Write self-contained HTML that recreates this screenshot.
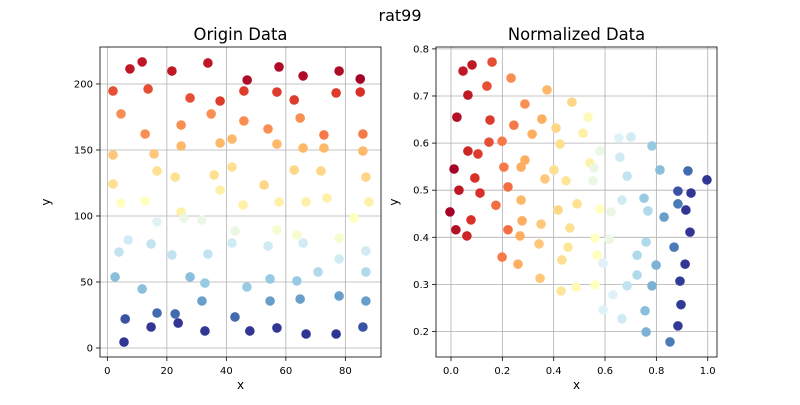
<!DOCTYPE html>
<html><head><meta charset="utf-8"><style>
body{margin:0;background:#fff;}
svg{font-family:"DejaVu Sans","Liberation Sans",sans-serif;}
</style></head><body>
<svg id="fig" width="800" height="400" xmlns="http://www.w3.org/2000/svg">
<rect width="800" height="400" fill="#fff"/>
<text x="400" y="21" text-anchor="middle" font-size="16">rat99</text>
</svg>
<script>
const lx=[7.6,11.7,21.7,33.8,47.0,57.7,65.8,77.9,85.0,1.9,13.7,27.8,37.9,45.9,57.0,62.8,76.9,85.0,4.6,34.9,24.8,45.9,64.8,12.7,54.0,72.8,85.9,24.8,37.9,41.9,57.0,65.8,72.8,85.9,1.9,15.7,16.7,1.9,22.8,35.9,41.9,52.7,62.8,71.8,86.9,37.9,45.6,57.7,66.8,73.8,87.9,4.6,12.7,24.8,82.9,25.8,31.8,16.7,42.9,57.0,63.7,77.9,7.0,14.7,41.9,54.0,65.8,86.9,3.9,21.7,33.8,77.9,70.8,86.9,2.6,27.8,32.8,54.7,63.7,11.7,46.9,31.8,54.7,64.8,77.9,86.9,6.0,16.7,22.8,42.9,85.9,14.7,23.8,32.8,47.9,57.0,66.8,76.9,5.6];
const ly=[211.4,216.7,209.8,215.9,203.0,212.9,206.1,209.8,203.8,194.7,196.2,189.4,187.1,194.7,193.9,187.9,193.2,193.9,177.3,177.3,168.9,172.0,174.2,162.1,165.9,161.4,162.1,153.0,155.3,158.3,154.5,151.5,151.5,149.2,146.2,147.0,134.1,124.2,129.5,131.1,137.1,123.5,134.8,134.1,129.5,119.7,108.3,110.6,110.6,113.6,110.6,109.8,111.4,103.0,98.5,98.5,97.0,95.5,88.6,89.4,85.6,83.3,81.8,78.8,79.5,77.3,79.5,73.5,72.7,70.5,71.2,67.4,57.6,57.6,53.8,53.8,49.2,52.3,50.8,44.7,46.2,35.6,35.6,37.1,39.4,35.6,22.0,26.5,25.8,23.5,15.9,15.9,18.9,12.9,12.9,15.2,10.6,10.6,4.5];
const lc=[.05,.05,.05,.05,.02,.02,.02,.02,0,.15,.15,.15,.12,.12,.12,.12,.12,.1,.25,.25,.25,.25,.25,.25,.25,.22,.22,.32,.32,.32,.32,.32,.32,.32,.35,.35,.4,.4,.4,.4,.4,.38,.38,.38,.38,.45,.45,.45,.45,.45,.45,.5,.5,.45,.5,.55,.55,.58,.55,.52,.52,.52,.6,.62,.6,.6,.6,.6,.62,.62,.62,.6,.65,.65,.7,.7,.68,.68,.68,.7,.68,.75,.75,.75,.75,.75,.85,.82,.82,.82,.85,.92,.92,.9,.9,.9,.9,.9,1.0];
const rx=[.047,.082,.160,.234,.140,.066,.374,.288,.471,.023,.152,.354,.245,.534,.409,.316,.514,.654,.701,.148,.199,.425,.783,.066,.105,.580,.658,.288,.012,.206,.273,.401,.541,.557,.814,.923,.997,.093,.366,.448,.553,.686,.031,.113,.222,.884,.935,.175,.273,.491,.666,.752,.884,-.004,.078,.019,.062,.417,.580,.623,.767,.915,.830,.931,.222,.277,.269,.351,.463,.343,.456,.561,.616,.760,.869,.199,.261,.432,.569,.592,.725,.799,.912,.347,.429,.487,.561,.686,.725,.783,.892,.631,.896,.592,.756,.666,.884,.760,.853];
const ry=[.753,.766,.772,.738,.721,.702,.713,.683,.687,.655,.649,.651,.638,.655,.632,.619,.621,.611,.613,.602,.604,.598,.594,.583,.577,.583,.570,.564,.545,.549,.549,.543,.558,.547,.543,.541,.522,.526,.524,.520,.520,.530,.500,.494,.507,.498,.494,.468,.479,.471,.479,.483,.471,.454,.437,.416,.403,.458,.460,.454,.456,.458,.443,.411,.416,.435,.403,.428,.420,.386,.379,.398,.396,.390,.379,.358,.343,.352,.362,.345,.362,.341,.343,.313,.286,.294,.299,.297,.320,.297,.307,.278,.257,.246,.244,.227,.212,.199,.178];
const rc=[.05,.05,.15,.25,.15,.05,.32,.25,.38,.03,.12,.3,.22,.48,.38,.3,.45,.58,.6,.15,.22,.4,.68,.08,.12,.55,.6,.3,0,.22,.3,.4,.45,.55,.7,.82,.95,.1,.35,.42,.55,.62,.05,.1,.2,.85,.9,.2,.32,.4,.6,.68,.8,0,.1,.03,.08,.38,.5,.55,.65,.92,.75,.9,.2,.3,.3,.35,.4,.35,.42,.5,.55,.65,.8,.22,.3,.4,.5,.58,.65,.72,.92,.35,.42,.48,.5,.62,.65,.72,.88,.58,.88,.58,.7,.6,.88,.72,.8];
const lXT=[0,20,40,60,80], lYT=[0,50,100,150,200];
const rXT=[0.0,0.2,0.4,0.6,0.8,1.0], rYT=[0.2,0.3,0.4,0.5,0.6,0.7,0.8];

const stops=["#a50026","#d73027","#f46d43","#fdae61","#fee090","#ffffbf","#e0f3f8","#abd9e9","#74add1","#4575b4","#313695"];
function hx(h){return [1,3,5].map(i=>parseInt(h.substr(i,2),16));}
function cmap(t){if(t>0.5)t=0.5+(t-0.5)*1.3;t=Math.max(0,Math.min(1,t))*10;const i=Math.min(9,Math.floor(t)),f=t-i;const a=hx(stops[i]),b=hx(stops[i+1]);return "rgb("+a.map((v,k)=>Math.round(v+(b[k]-v)*f)).join(",")+")";}
const svg=document.getElementById('fig');const NS="http://www.w3.org/2000/svg";
function el(tag,at,parent){const e=document.createElementNS(NS,tag);for(const k in at)e.setAttribute(k,at[k]);(parent||svg).appendChild(e);return e;}
function panel(o){
  const g=el('g',{});
  
  
  const sx=v=>o.x0+(v-o.xmin)/(o.xmax-o.xmin)*(o.x1-o.x0);
  const sy=v=>o.y1-(v-o.ymin)/(o.ymax-o.ymin)*(o.y1-o.y0);
  o.xt.forEach(t=>{const p=sx(t);
    const l=el('line',{x1:p,x2:p,y1:o.y0,y2:o.y1,stroke:"#b0b0b0","stroke-width":0.8},g);
    
    el('line',{x1:p,x2:p,y1:o.y1,y2:o.y1+4,stroke:"#000","stroke-width":0.8},g);
    const tx=el('text',{x:p,y:o.y1+17,"text-anchor":"middle","font-size":10},g);tx.textContent=o.fmt(t);
    });
  o.yt.forEach(t=>{const p=sy(t);
    const l=el('line',{x1:o.x0,x2:o.x1,y1:p,y2:p,stroke:"#b0b0b0","stroke-width":0.8},g);
    
    el('line',{x1:o.x0-4,x2:o.x0,y1:p,y2:p,stroke:"#000","stroke-width":0.8},g);
    const tx=el('text',{x:o.x0-7,y:p+3.5,"text-anchor":"end","font-size":10},g);tx.textContent=o.fmt(t);
    });
  o.X.forEach((v,i)=>{const c=el('circle',{cx:sx(v),cy:sy(o.Y[i]),r:4.8,fill:cmap(o.C[i])},g);
    });
  const fr=el('rect',{x:o.x0,y:o.y0,width:o.x1-o.x0,height:o.y1-o.y0,fill:"none",stroke:"#000","stroke-width":0.8},g);
  
  const ti=el('text',{x:(o.x0+o.x1)/2,y:o.y0-7,"text-anchor":"middle","font-size":16.4},g);ti.textContent=o.title;
  
  const xl=el('text',{x:(o.x0+o.x1)/2,y:o.y1+32,"text-anchor":"middle","font-size":12},g);xl.textContent='x';
  
  const yl=el('text',{x:o.x0-o.ylo,y:(o.y0+o.y1)/2,"text-anchor":"middle","font-size":12,transform:`rotate(-90 ${o.x0-o.ylo} ${(o.y0+o.y1)/2})`},g);yl.textContent='y';
  
}
panel({name:'origin-data-panel',title:'Origin Data',x0:100,x1:381,y0:47,y1:357,xmin:-2.47,xmax:91.98,ymin:-6.82,ymax:228,xt:lXT,yt:lYT,X:lx,Y:ly,C:lc,fmt:v=>String(v),ylo:50});
panel({name:'normalized-data-panel',title:'Normalized Data',x0:436,x1:717,y0:47,y1:357,xmin:-0.0584,xmax:1.0362,ymin:0.1459,ymax:0.804,xt:rXT,yt:rYT,X:rx,Y:ry,C:rc,fmt:v=>v.toFixed(1),ylo:38});
</script>
</body></html>
